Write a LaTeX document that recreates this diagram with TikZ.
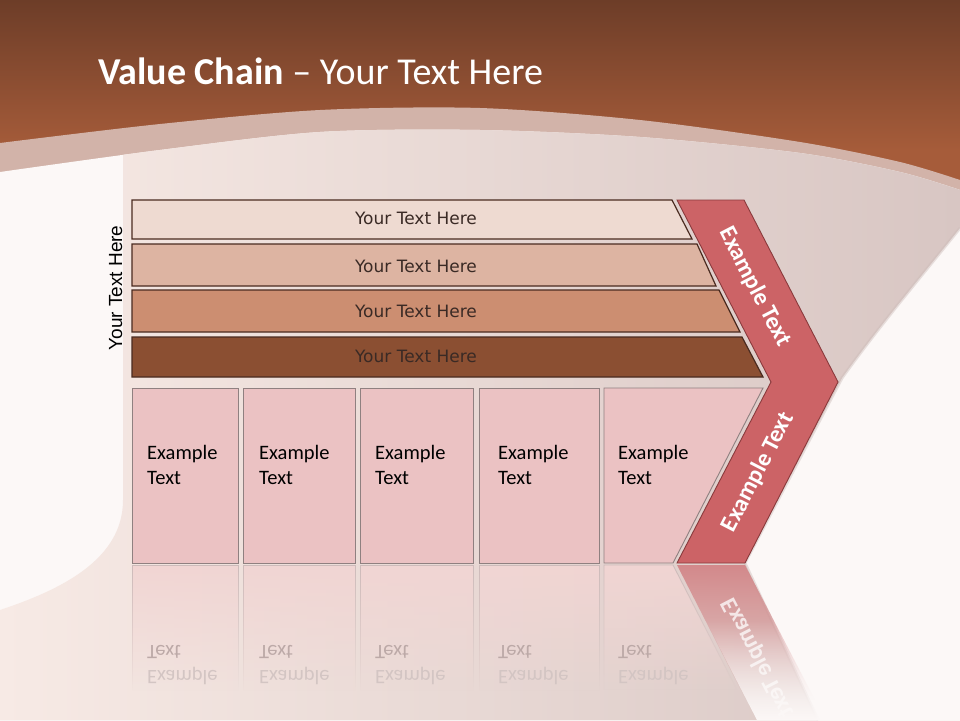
\documentclass[tikz,border=0pt]{standalone}
\usepackage{fontspec}
\setmainfont{Carlito}
\newfontfamily\dejavu{DejaVu Sans}
\newfontfamily\liberation{Liberation Sans}
\usepackage{tikz}
\usepackage{xcolor}
\usetikzlibrary{
    fadings
}

\definecolor{page}{HTML}{FCF8F7}
\definecolor{browntop}{HTML}{6D3D28}
\definecolor{brownbot}{HTML}{A65C3A}
\definecolor{band}{HTML}{D2B3A9}
\definecolor{bodyl}{HTML}{F7EAE5}
\definecolor{bodym}{HTML}{F2E3DE}
\definecolor{bodyr}{HTML}{D8C6C3}
\definecolor{shadowc}{HTML}{CDBDBA}
\definecolor{bar1}{HTML}{EEDAD1}
\definecolor{bar2}{HTML}{DDB4A2}
\definecolor{bar3}{HTML}{CC8E71}
\definecolor{bar4}{HTML}{8B4F32}
\definecolor{barline}{HTML}{4A2B20}
\definecolor{bartxt}{HTML}{3A2A25}
\definecolor{boxfill}{HTML}{EBC2C3}
\definecolor{boxline}{HTML}{8F8080}
\definecolor{chev}{HTML}{CC6366}
\definecolor{chevline}{HTML}{8A3A3C}
\definecolor{reflfill}{HTML}{F1D5D3}
\definecolor{reflline}{HTML}{CDBBBA}
\definecolor{reflarm}{HTML}{D3898B}
\definecolor{reflhigh}{HTML}{BCA9A7}
\definecolor{refllow}{HTML}{D3C5C3}

\begin{document}
\begin{tikzpicture}[x=1pt, y=-1pt,
        bartext/.style={font=\dejavu\fontsize{17}{20}\selectfont, text=bartxt, inner sep=0},
        boxtext/.style={font=\fontsize{20.5}{25.7}\selectfont, align=left, anchor=west, inner sep=0},
        chevtext/.style={font=\bfseries\fontsize{24}{28}\selectfont, text=white, inner sep=0},
        barshape/.style={draw=barline, line width=1.2pt},
        boxshape/.style={fill=boxfill, draw=boxline, line width=0.9pt},
        reflshape/.style={fill=reflfill, draw=reflline, line width=0.9pt, path fading=south}]

                        \clip (0,0) rectangle (960,720);
                        \fill[page] (0,0) rectangle (960,720);
                        \shade[top color=browntop, bottom color=brownbot] (0,0) rectangle (960,150);
                        \fill[brownbot] (0,150) rectangle (960,260);

                        \fill[band] plot[smooth] coordinates {(0,143) (160,124) (320,110) (480,108) (640,120) (800,142) (900,162) (960,180)}
                            -- (960,720) -- (0,720) -- cycle;
                        \fill[page] plot[smooth] coordinates {(0,172) (160,150) (320,132) (480,130) (640,137) (800,153) (900,172) (960,190)}
                            -- (960,720) -- (0,720) -- cycle;

                        \begin{scope}
                            \clip plot[smooth] coordinates {(0,172) (160,150) (320,132) (480,130) (640,137) (800,153) (900,172) (960,190)}
                                -- (960,720) -- (0,720) -- cycle;
                            \shade[left color=bodyl, middle color=bodym, right color=bodyr]
                                (123,100) -- (960,100) -- (960,228) .. controls (920,278) and (880,325) .. (842,378)
                                -- (745,563) -- (818,720) -- (0,720) -- (0,610)
                                .. controls (60,590) and (123,560) .. (123,500) -- cycle;
                            \draw[shadowc, line width=3pt, opacity=0.45]
                                (960,228) .. controls (920,278) and (880,325) .. (842,378) -- (745,563) -- (818,720);
                        \end{scope}

                        \path[reflshape] (132,565) rectangle (238,690);
                        \path[reflshape] (243,565) rectangle (355,690);
                        \path[reflshape] (360,565) rectangle (473,690);
                        \path[reflshape] (479,565) rectangle (599,690);
                        \path[reflshape] (604,565) -- (673,565) -- (737,690) -- (604,690) -- cycle;
                        \path[fill=reflarm, path fading=south] (677,565) -- (745,565) -- (815,700) -- (746,700) -- cycle;

                        \begin{scope}[cm={1,0,0,-1,(0pt,-1130pt)}, transform shape]
                            \node[boxtext] (mirror1) at (147,465) {\textcolor{refllow}{Example}\\\textcolor{reflhigh}{Text}};
                            \node[boxtext] (mirror2) at (259,465) {\textcolor{refllow}{Example}\\\textcolor{reflhigh}{Text}};
                            \node[boxtext] (mirror3) at (375,465) {\textcolor{refllow}{Example}\\\textcolor{reflhigh}{Text}};
                            \node[boxtext] (mirror4) at (498,465) {\textcolor{refllow}{Example}\\\textcolor{reflhigh}{Text}};
                            \node[boxtext] (mirror5) at (618,465) {\textcolor{refllow}{Example}\\\textcolor{reflhigh}{Text}};
                            \node[chevtext, rotate=62.7, opacity=0.75] (mirrorchev) at (758,472) {Example Text};
                        \end{scope}
                        \begin{scope}
                            \clip (677,565) -- (760,565) -- (860,720) -- (757,720) -- cycle;
                            \fill[page, path fading=north] (660,620) rectangle (960,720);
                        \end{scope}

                        \draw[barshape, fill=bar1] (132,200) -- (672,200) -- (692,239) -- (132,239) -- cycle;
                        \draw[barshape, fill=bar2] (132,244) -- (697,244) -- (716,286) -- (132,286) -- cycle;
                        \draw[barshape, fill=bar3] (132,290) -- (719,290) -- (740,332) -- (132,332) -- cycle;
                        \draw[barshape, fill=bar4] (132,337) -- (742,337) -- (763,377) -- (132,377) -- cycle;

                        \node[bartext] (bar1) at (416,218) {Your Text Here};
                        \node[bartext] (bar2) at (416,266) {Your Text Here};
                        \node[bartext] (bar3) at (416,311) {Your Text Here};
                        \node[bartext] (bar4) at (416,356) {Your Text Here};

                        \draw[boxshape] (132,388) rectangle (238,563);
                        \draw[boxshape] (243,388) rectangle (355,563);
                        \draw[boxshape] (360,388) rectangle (473,563);
                        \draw[boxshape] (479,388) rectangle (599,563);
                        \draw[boxshape] (604,388) -- (763,388) -- (673,563) -- (604,563) -- cycle;

                        \node[boxtext] (box1) at (147,465) {Example\\Text};
                        \node[boxtext] (box2) at (259,465) {Example\\Text};
                        \node[boxtext] (box3) at (375,465) {Example\\Text};
                        \node[boxtext] (box4) at (498,465) {Example\\Text};
                        \node[boxtext] (box5) at (618,465) {Example\\Text};

                        \draw[fill=chev, draw=chevline, line width=0.9pt]
                            (677,200) -- (744,200) -- (838,382) -- (745,563) -- (677,563) -- (771,382) -- cycle;
                        \node[chevtext, rotate=-62.7] (chevtop) at (755,287) {Example Text};
                        \node[chevtext, rotate=62.7] (chevbot) at (758,472) {Example Text};

                        \node[anchor=base west, inner sep=0, text=white, font=\fontsize{38}{45}\selectfont] (title)
                            at (98,84) {\textbf{Value Chain} \textendash{} Your Text Here};
                        \node[rotate=90, anchor=base, inner sep=0, font=\liberation\fontsize{19}{22}\selectfont] (side)
                            at (122,288) {Your Text Here};
\end{tikzpicture}
\end{document}
